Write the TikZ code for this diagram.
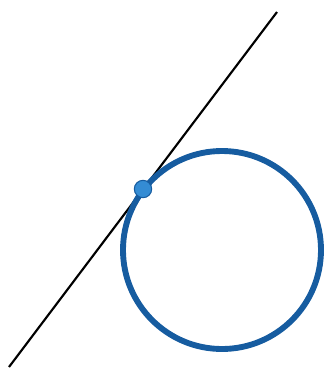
\documentclass[tikz,border=0pt]{standalone}
\usepackage{tikz}
\definecolor{circblue}{RGB}{22,92,160}
\definecolor{dotblue}{RGB}{52,140,212}
\begin{document}
\begin{tikzpicture}[x=0.75pt,y=-0.75pt]
        \useasboundingbox (0,0) rectangle (324,369);

        \coordinate (O) at (222,250);
        \coordinate (A) at (9,367);
        \coordinate (B) at (277,12);

        \draw[line width=1.6pt, black] (A) -- (B);
        \draw[line width=4.4pt, circblue] (O) circle (99);

        \node[circle, fill=dotblue, draw=circblue, line width=0.8pt,
              minimum size=13pt, inner sep=0pt] (T) at (143,189) {};
    \end{tikzpicture}
\end{document}
